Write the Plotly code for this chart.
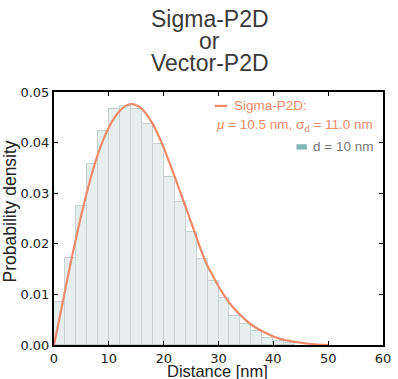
import plotly.graph_objects as go

# Histogram (bin width 2 nm)
bin_left = [0, 2, 4, 6, 8, 10, 12, 14, 16, 18, 20, 22, 24, 26, 28, 30, 32, 34, 36, 38, 40, 42]
bin_density = [0.00855, 0.0171, 0.0274, 0.0357, 0.0422, 0.0467, 0.0472, 0.0467, 0.0436, 0.0398,
               0.0332, 0.0283, 0.0224, 0.0169, 0.0126, 0.0093, 0.0057, 0.0041, 0.0028, 0.0014,
               0.0007, 0.0003]
bin_width = 2

# Fitted Sigma-P2D curve
curve_x = [0, 1, 2, 3, 4, 5, 6, 7, 8, 9, 10, 11, 12, 13, 14, 15, 16, 17, 18, 19, 20, 21, 22, 23, 24,
           25, 26, 27, 28, 29, 30, 32, 34, 36, 38, 40, 42, 44, 46, 48, 50]
curve_y = [0.0, 0.0053, 0.0107, 0.0160, 0.0210, 0.0258, 0.0302, 0.0342, 0.0377, 0.0406, 0.0430,
           0.0449, 0.0463, 0.0472, 0.0476, 0.0474, 0.0467, 0.0454, 0.0437, 0.0415, 0.0390, 0.0362,
           0.0333, 0.0303, 0.0273, 0.0243, 0.0212, 0.0182, 0.0156, 0.0136, 0.0116, 0.0083, 0.0059,
           0.0040, 0.0027, 0.0017, 0.0010, 0.0006, 0.0003, 0.0001, 0.0]

title_lines = ["Sigma-P2D", "or", "Vector-P2D"]
x_title = "Distance [nm]"
y_title = "Probability density"
curve_label_1 = "Sigma-P2D:"
curve_label_2 = "<i>μ</i> = 10.5 nm, σ<sub>d</sub> = 11.0 nm"
hist_label = "d = 10 nm"

CURVE = "#EF8A6B"
BAR_FILL = "#E6EEEE"
BAR_EDGE = "#C6D0D0"
SWATCH = "#7FBBB6"

fig = go.Figure()
fig.add_trace(go.Bar(
    x=[b + bin_width / 2 for b in bin_left], y=bin_density, width=bin_width,
    marker=dict(color=BAR_FILL, line=dict(color=BAR_EDGE, width=1)),
    showlegend=False, name=hist_label))
fig.add_trace(go.Scatter(
    x=curve_x, y=curve_y, mode="lines", line=dict(color=CURVE, width=2.2, shape="spline", smoothing=0.8),
    showlegend=False, name="Sigma-P2D"))

axis_common = dict(showline=True, linecolor="black", linewidth=2, mirror="ticks",
                   ticks="inside", ticklen=4, tickwidth=1, tickcolor="black",
                   showgrid=False, zeroline=False, automargin=False,
                   tickfont=dict(family="DejaVu Sans", size=13, color="#222"))

fig.update_xaxes(range=[0, 60], dtick=10, tick0=0, **axis_common)
fig.update_yaxes(range=[0, 0.05], dtick=0.01, tick0=0, tickformat=".2f", **axis_common)

# axis titles
fig.add_annotation(xref="paper", yref="paper", x=0.497, y=-0.103, xanchor="center", yanchor="middle",
                   text=x_title, showarrow=False,
                   font=dict(family="Liberation Sans", size=16.5, color="#222"))
fig.add_annotation(xref="paper", yref="paper", x=-0.133, y=0.529, xanchor="center", yanchor="middle",
                   text=y_title, showarrow=False, textangle=-90,
                   font=dict(family="Liberation Sans", size=17.5, color="#222"))

# title as three lines
title_y = [1.290, 1.202, 1.114]
for txt, ty in zip(title_lines, title_y):
    fig.add_annotation(xref="paper", yref="paper", x=0.474, y=ty, xanchor="center", yanchor="middle",
                       text=txt, showarrow=False,
                       font=dict(family="Liberation Sans", size=23, color="#3a3a3a"))

# manual legend
fig.add_shape(type="line", xref="paper", yref="paper", x0=0.489, x1=0.526, y0=0.945, y1=0.945,
              line=dict(color=CURVE, width=2.2))
fig.add_annotation(xref="paper", yref="paper", x=0.541, y=0.947, xanchor="left", yanchor="middle",
                   text=curve_label_1, showarrow=False,
                   font=dict(family="Liberation Sans", size=13.5, color=CURVE))
fig.add_annotation(xref="paper", yref="paper", x=0.486, y=0.869, xanchor="left", yanchor="middle",
                   text=curve_label_2, showarrow=False,
                   font=dict(family="Liberation Sans", size=13.5, color=CURVE))
fig.add_shape(type="rect", xref="paper", yref="paper", x0=0.738, x1=0.768, y0=0.774, y1=0.792,
              fillcolor=SWATCH, line=dict(color="#6A9E9A", width=0.5))
fig.add_annotation(xref="paper", yref="paper", x=0.782, y=0.783, xanchor="left", yanchor="middle",
                   text=hist_label, showarrow=False,
                   font=dict(family="Liberation Sans", size=13.5, color="#777"))

fig.update_layout(
    width=398, height=379,
    margin=dict(l=54, r=15, t=92, b=34),
    paper_bgcolor="white", plot_bgcolor="white",
    bargap=0,
)

fig.write_html("out.html")
